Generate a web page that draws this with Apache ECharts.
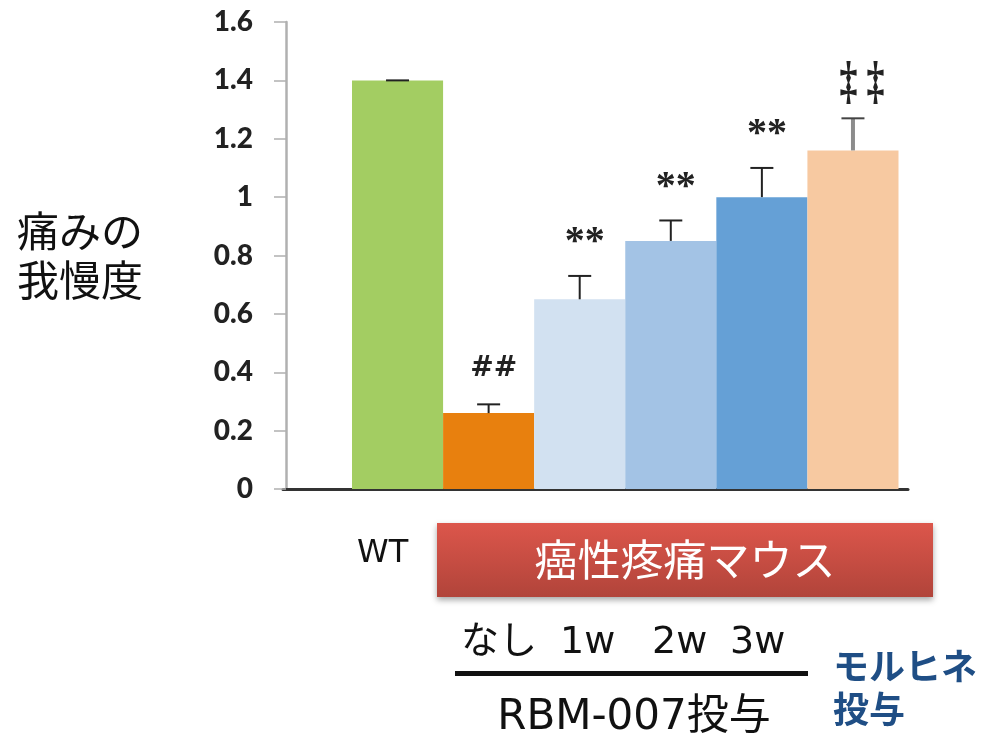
<!DOCTYPE html>
<html>
<head>
<meta charset="utf-8">
<script src="https://cdn.jsdelivr.net/npm/echarts@6/dist/echarts.min.js"></script>
<style>
  html, body { margin: 0; padding: 0; background: #fff; }
  #chart { width: 985px; height: 740px; }
</style>
</head>
<body>
<div id="chart"></div>
<script>
// Pain tolerance per group: WT, cancer-pain mice untreated / RBM-007 1w-3w, morphine
const groups = ['WT', 'なし', '1w', '2w', '3w', 'モルヒネ'];
const means = [1.40, 0.26, 0.65, 0.85, 1.00, 1.16];
const errors = [0, 0.03, 0.08, 0.07, 0.10, 0.11];
const marks = ['', '##', '**', '**', '**', '‡ ‡'];
const doseLabels = ['なし', '1w', '2w', '3w'];
const yMin = 0, yMax = 1.6, yStep = 0.2;

const palette = ['#a3cd62', '#e8800e', '#d2e1f1', '#a3c3e5', '#65a0d6', '#f7c9a1'];
const JP = '"DejaVu Sans", "Noto Sans CJK JP", sans-serif';

const chart = echarts.init(document.getElementById('chart'), null, { renderer: 'canvas' });

function markFont(mark) {
  if (mark.indexOf('#') >= 0) return 'italic bold 28px "DejaVu Serif"';
  if (mark.indexOf('*') >= 0) return 'bold 40px "Liberation Serif"';
  return 'bold 36px "Liberation Serif"';
}

function renderError(params, api) {
  const i = api.value(0);
  const mean = api.value(1);
  const err = api.value(2);
  const base = api.coord([i, mean]);
  const top = api.coord([i, mean + err]);
  const cx = base[0];
  const capHalf = 11.5;
  const morphine = i === 5;
  const children = [];
  if (err > 0) {
    children.push({
      type: 'line',
      shape: { x1: cx, y1: base[1], x2: cx, y2: top[1] },
      style: { stroke: morphine ? '#8c8c8c' : '#222', lineWidth: morphine ? 4 : 2 }
    });
  }
  children.push({
    type: 'line',
    shape: { x1: cx - capHalf, y1: top[1], x2: cx + capHalf, y2: top[1] },
    style: { stroke: morphine ? '#444' : '#222', lineWidth: 2 }
  });
  const mark = marks[i];
  if (mark) {
    const star = mark.indexOf('*') >= 0;
    children.push({
      type: 'text',
      x: cx + (morphine ? 9 : 5),
      y: top[1] - (star ? 33 : (morphine ? 34 : 36)),
      scaleY: morphine ? 1.45 : 1,
      style: {
        text: mark,
        fill: '#222',
        font: markFont(mark),
        textAlign: 'center',
        textVerticalAlign: 'middle'
      }
    });
  }
  return { type: 'group', children: children };
}

const doseX = [461, 560, 652, 730];

chart.setOption({
  animation: false,
  grid: [
    { left: 352, right: 86.5, top: 22, bottom: 251 },
    { left: 283, right: 77, top: 22, bottom: 251 }
  ],
  xAxis: [
    {
      type: 'category', gridIndex: 0, data: groups,
      axisLine: { show: false }, axisTick: { show: false }, axisLabel: { show: false }
    },
    {
      type: 'value', gridIndex: 1, min: 0, max: 1, offset: 3.5,
      axisLine: { show: true, lineStyle: { color: '#333', width: 3 } },
      axisTick: { show: false }, axisLabel: { show: false }, splitLine: { show: false }
    }
  ],
  yAxis: [
    {
      type: 'value', gridIndex: 0, min: yMin, max: yMax, interval: yStep, offset: 66,
      name: '痛みの\n我慢度',
      nameLocation: 'middle', nameRotate: 0, nameGap: 206,
      nameTextStyle: {
        fontFamily: '"Noto Sans CJK JP"', fontSize: 42, color: '#111',
        lineHeight: 49, align: 'center', verticalAlign: 'middle'
      },
      axisLine: { show: true, lineStyle: { color: '#b0b0b0', width: 2.5 } },
      axisTick: { show: true, inside: false, length: 12, lineStyle: { color: '#b0b0b0', width: 1.5 } },
      axisLabel: {
        margin: 33, fontFamily: 'Lato', fontWeight: 900, fontSize: 28, color: '#222'
      },
      splitLine: { show: false }
    },
    { type: 'value', gridIndex: 1, show: false }
  ],
  series: [
    {
      type: 'bar', xAxisIndex: 0, yAxisIndex: 0,
      barWidth: '100%', barGap: '0%',
      data: means.map((v, i) => ({ value: v, itemStyle: { color: palette[i] } }))
    },
    {
      type: 'custom', xAxisIndex: 0, yAxisIndex: 0,
      renderItem: renderError,
      data: means.map((v, i) => [i, v, errors[i]]),
      z: 5
    }
  ],
  graphic: [
    {
      type: 'text', left: 357, top: 557 - 19,
      style: { text: 'WT', font: '32px "DejaVu Sans"', fill: '#111' }
    },
    {
      type: 'rect', shape: { x: 437, y: 523, width: 496, height: 74 },
      style: {
        fill: new echarts.graphic.LinearGradient(0, 0, 0, 1, [
          { offset: 0, color: '#dc564b' },
          { offset: 1, color: '#b1443a' }
        ]),
        shadowBlur: 6, shadowOffsetY: 3, shadowColor: 'rgba(0,0,0,0.35)'
      }
    },
    {
      type: 'text', x: 685, y: 560,
      style: {
        text: '癌性疼痛マウス', font: '43px "Noto Sans CJK JP"', fill: '#fff',
        textAlign: 'center', textVerticalAlign: 'middle'
      }
    }
  ].concat(doseLabels.map((t, k) => ({
    type: 'text', x: doseX[k], y: 643,
    style: {
      text: t, font: '38px ' + JP, fill: '#111',
      textAlign: 'left', textVerticalAlign: 'middle'
    }
  }))).concat([
    {
      type: 'rect', shape: { x: 455, y: 671, width: 353, height: 5 },
      style: { fill: '#111' }
    },
    {
      type: 'text', x: 634, y: 718,
      style: {
        text: 'RBM-007投与', font: '42px ' + JP, fill: '#111',
        textAlign: 'center', textVerticalAlign: 'middle'
      }
    },
    {
      type: 'text', x: 833, y: 688,
      style: {
        text: 'モルヒネ\n投与', font: 'bold 36px "Noto Sans CJK JP"', fill: '#1f4e85',
        lineHeight: 43, textAlign: 'left', textVerticalAlign: 'middle'
      }
    }
  ])
});
</script>
</body>
</html>
